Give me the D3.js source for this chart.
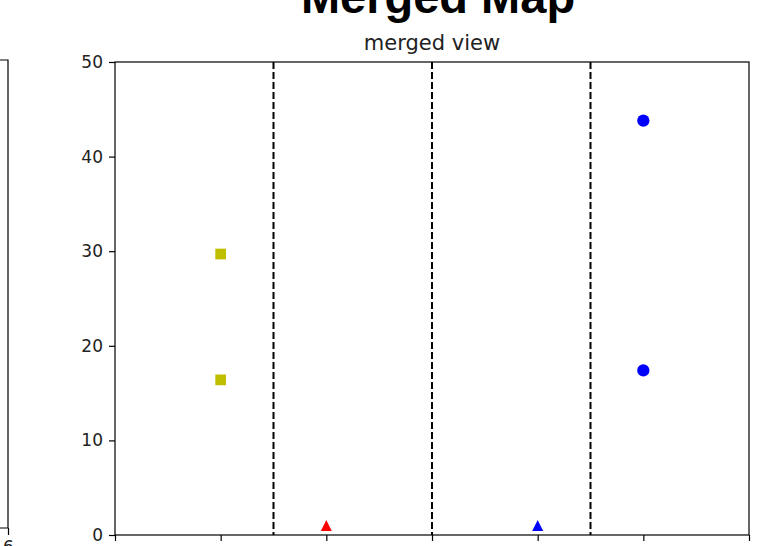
<!DOCTYPE html>
<html>
<head>
<meta charset="utf-8">
<script src="https://cdn.jsdelivr.net/npm/d3@7"></script>
<style>
  body { margin: 0; background: #fff; }
  svg { display: block; }
</style>
</head>
<body>
<svg></svg>
<script>
// chart values
const xTicks = [0, 1, 2, 3, 4, 5, 6];
const yTicks = [0, 10, 20, 30, 40, 50];
const dividers = [1.5, 3, 4.5];
const seriesNames = ["squares", "red triangles", "blue triangles", "circles"];
const seriesX = [[1, 1], [2], [4], [5, 5]];
const seriesY = [[29.7, 16.4], [1], [1], [43.8, 17.4]];
const seriesColor = ["#bfbf00", "#ff0000", "#0000ff", "#0000ff"];
const seriesShape = ["square", "triangle", "triangle", "circle"];

const width = 781;
const height = 546;
const marginTop = 62;
const marginLeft = 115;
const plotW = 634;
const plotH = 473;
const tickFont = "17px";

const svg = d3.select("svg")
  .attr("width", width)
  .attr("height", height);

// set x
const x = d3.scaleLinear()
  .domain([0, 6])
  .range([marginLeft, marginLeft + plotW]);

// set y
const y = d3.scaleLinear()
  .domain([0, 50])
  .range([marginTop + plotH, marginTop]);

// big title, mostly cut off at the top
svg.append("text")
  .attr("x", 438)
  .attr("y", 13)
  .attr("text-anchor", "middle")
  .attr("font-family", "Liberation Sans, Arial, sans-serif")
  .attr("font-size", "47px")
  .attr("font-weight", "bold")
  .text("Merged Map");

// subplot title
svg.append("text")
  .attr("x", marginLeft + plotW / 2)
  .attr("y", 50)
  .attr("text-anchor", "middle")
  .attr("font-family", "DejaVu Sans, sans-serif")
  .attr("font-size", "21px")
  .attr("fill", "#222")
  .text("merged view");

// neighbouring subplot, only its right edge shows
const xLeft = d3.scaleLinear().domain([0, 6]).range([-600, 8]);
const leftBox = svg.append("g");
leftBox.append("path")
  .attr("d", `M0,60H8V528H0`)
  .attr("fill", "none")
  .attr("stroke", "#000")
  .attr("stroke-width", 1.2);
leftBox.append("g")
  .attr("transform", "translate(0,528)")
  .call(d3.axisBottom(xLeft).tickValues([6]).tickFormat(d3.format("d")).tickSize(7).tickPadding(6).tickSizeOuter(0))
  .call(g => g.select(".domain").remove())
  .call(g => g.selectAll("text").attr("font-family", "DejaVu Sans, sans-serif").attr("font-size", tickFont).attr("fill", "#222"))
  .call(g => g.selectAll("line").attr("stroke-width", 1.2));

// divider lines
svg.append("g").selectAll("line")
  .data(dividers).enter().append("line")
  .attr("x1", d => x(d))
  .attr("x2", d => x(d))
  .attr("y1", marginTop)
  .attr("y2", marginTop + plotH)
  .attr("stroke", "#000")
  .attr("stroke-width", 2)
  .attr("stroke-dasharray", "7,3");

// markers (triangle centred on its box, like matplotlib's "^")
const boxTriangle = {
  draw(context, size) {
    const r = Math.sqrt(size) / 2;
    context.moveTo(0, -r);
    context.lineTo(r, r);
    context.lineTo(-r, r);
    context.closePath();
  }
};
const symbolTypes = { square: d3.symbolSquare, triangle: boxTriangle, circle: d3.symbolCircle };
const symbolSizes = { square: 115, triangle: 121, circle: 118 };

const points = seriesNames.flatMap((name, i) =>
  seriesX[i].map((xv, j) => ({ name, x: xv, y: seriesY[i][j], color: seriesColor[i], shape: seriesShape[i] })));

svg.append("g").selectAll("path")
  .data(points).enter().append("path")
  .attr("transform", d => `translate(${x(d.x)},${y(d.y)})`)
  .attr("d", d => d3.symbol().type(symbolTypes[d.shape]).size(symbolSizes[d.shape])())
  .attr("fill", d => d.color);

// frame
svg.append("rect")
  .attr("x", marginLeft)
  .attr("y", marginTop)
  .attr("width", plotW)
  .attr("height", plotH)
  .attr("fill", "none")
  .attr("stroke", "#000")
  .attr("stroke-width", 1.2);

// x-axis (labels fall below the visible area, as in the reference)
svg.append("g")
  .attr("transform", `translate(0,${marginTop + plotH})`)
  .call(d3.axisBottom(x).tickValues(xTicks).tickFormat(d3.format("d")).tickSize(6).tickPadding(8).tickSizeOuter(0))
  .call(g => g.select(".domain").remove())
  .call(g => g.selectAll("line").attr("stroke-width", 1.2))
  .call(g => g.selectAll("text").attr("font-family", "DejaVu Sans, sans-serif").attr("font-size", tickFont).attr("fill", "#222"));

// y-axis
svg.append("g")
  .attr("transform", `translate(${marginLeft},0)`)
  .call(d3.axisLeft(y).tickValues(yTicks).tickSize(6).tickPadding(6).tickSizeOuter(0))
  .call(g => g.select(".domain").remove())
  .call(g => g.selectAll("line").attr("stroke-width", 1.2))
  .call(g => g.selectAll("text").attr("font-family", "DejaVu Sans, sans-serif").attr("font-size", tickFont).attr("fill", "#222"));
</script>
</body>
</html>
